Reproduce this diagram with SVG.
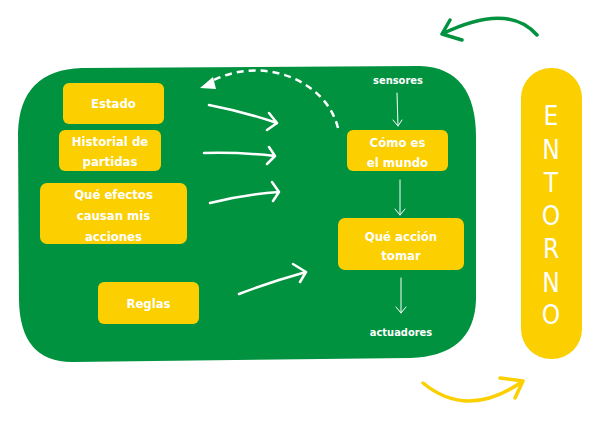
<svg xmlns="http://www.w3.org/2000/svg" width="601" height="421" viewBox="0 0 601 421">
<defs>
<style>
.box{fill:#FBCF00;}
.t{font-family:"DejaVu Sans Condensed","Liberation Sans",sans-serif;font-weight:bold;font-size:13px;fill:#FFFFFF;text-anchor:middle;}
.s{font-family:"DejaVu Sans Condensed","Liberation Sans",sans-serif;font-weight:bold;font-size:11px;fill:#FFFFFF;text-anchor:middle;}
.e{font-family:"DejaVu Sans Condensed","Liberation Sans",sans-serif;font-size:26px;fill:#FFFFFF;text-anchor:middle;}
.thin{fill:none;stroke:#FFFFFF;stroke-width:1;stroke-linecap:round;stroke-linejoin:round;}
.thick{fill:none;stroke:#FFFFFF;stroke-width:2.5;stroke-linecap:round;stroke-linejoin:round;}
</style>
</defs>
<rect width="601" height="421" fill="#FFFFFF"/>
<g id="agent">
<path d="M 82 68 L 420 66 Q 477 68 476 140 L 476 300 Q 474 356 410 358 L 72 362 Q 20 362 19 300 L 18 132 Q 20 70 82 68 Z" fill="#00923F"/>
</g>
<g id="estado"><rect class="box" x="63" y="83" width="101" height="41" rx="6"/><text class="t" x="113.5" y="108">Estado</text></g>
<g id="historial"><rect class="box" x="59" y="130" width="102" height="41" rx="6"/><text class="t" x="110" y="146">Historial de</text><text class="t" x="110" y="166">partidas</text></g>
<g id="efectos"><rect class="box" x="40" y="183" width="147" height="61" rx="7"/><text class="t" x="113.5" y="199">Qué efectos</text><text class="t" x="113.5" y="220">causan mis</text><text class="t" x="113.5" y="241">acciones</text></g>
<g id="reglas"><rect class="box" x="98" y="282" width="101" height="42" rx="6"/><text class="t" x="148.5" y="308">Reglas</text></g>
<g id="como"><rect class="box" x="347" y="130" width="101" height="41" rx="6"/><text class="t" x="397.5" y="147">Cómo es</text><text class="t" x="397.5" y="167">el mundo</text></g>
<g id="accion"><rect class="box" x="338" y="218" width="126" height="52" rx="7"/><text class="t" x="401" y="241">Qué acción</text><text class="t" x="401" y="260">tomar</text></g>
<g id="sensores"><text class="s" x="398" y="84">sensores</text></g>
<g id="actuadores"><text class="s" x="401" y="336">actuadores</text></g>
<g id="entorno">
<rect class="box" x="521" y="68" width="61" height="291" rx="30"/>
<text class="e" x="551" y="125">E</text>
<text class="e" x="551" y="159">N</text>
<text class="e" x="551" y="192">T</text>
<text class="e" x="551" y="225">O</text>
<text class="e" x="551" y="258">R</text>
<text class="e" x="551" y="292">N</text>
<text class="e" x="551" y="324">O</text>
</g>
<g id="connectors">
<path class="thin" d="M 397 93 L 398 126 M 393 120 L 398 126 L 402 120"/>
<path class="thin" d="M 400 180 L 400 215 M 395 209 L 400 215 L 405 209"/>
<path class="thin" d="M 401 278 L 401 313 M 396 307 L 401 313 L 406 307"/>
<path class="thick" d="M 209 105 Q 245 112 277 123 M 269 113 L 277 123 L 267 130"/>
<path class="thick" d="M 204 153 Q 240 152 275 156 M 269 147 L 275 156 L 267 164"/>
<path class="thick" d="M 210 203 Q 245 194 279 192 M 272 182 L 279 192 L 273 201"/>
<path class="thick" d="M 239 294 Q 270 282 306 272 M 293 264 L 306 272 L 300 282"/>
<path fill="none" stroke="#FFFFFF" stroke-width="2.5" stroke-dasharray="7 5" d="M 338 128 C 326 80 262 54 210 82"/>
<polygon points="200,88 213,77 216,89" fill="#FFFFFF"/>
<path fill="none" stroke="#00923F" stroke-width="3.5" stroke-linecap="round" stroke-linejoin="round" d="M 537 35 Q 508 2 442 34 M 450 20 L 442 34 L 462 40"/>
<path fill="none" stroke="#FBCF00" stroke-width="3.5" stroke-linecap="round" stroke-linejoin="round" d="M 423 383 Q 468 420 523 381 M 500 378 L 523 381 L 515 398"/>
</g>
</svg>
